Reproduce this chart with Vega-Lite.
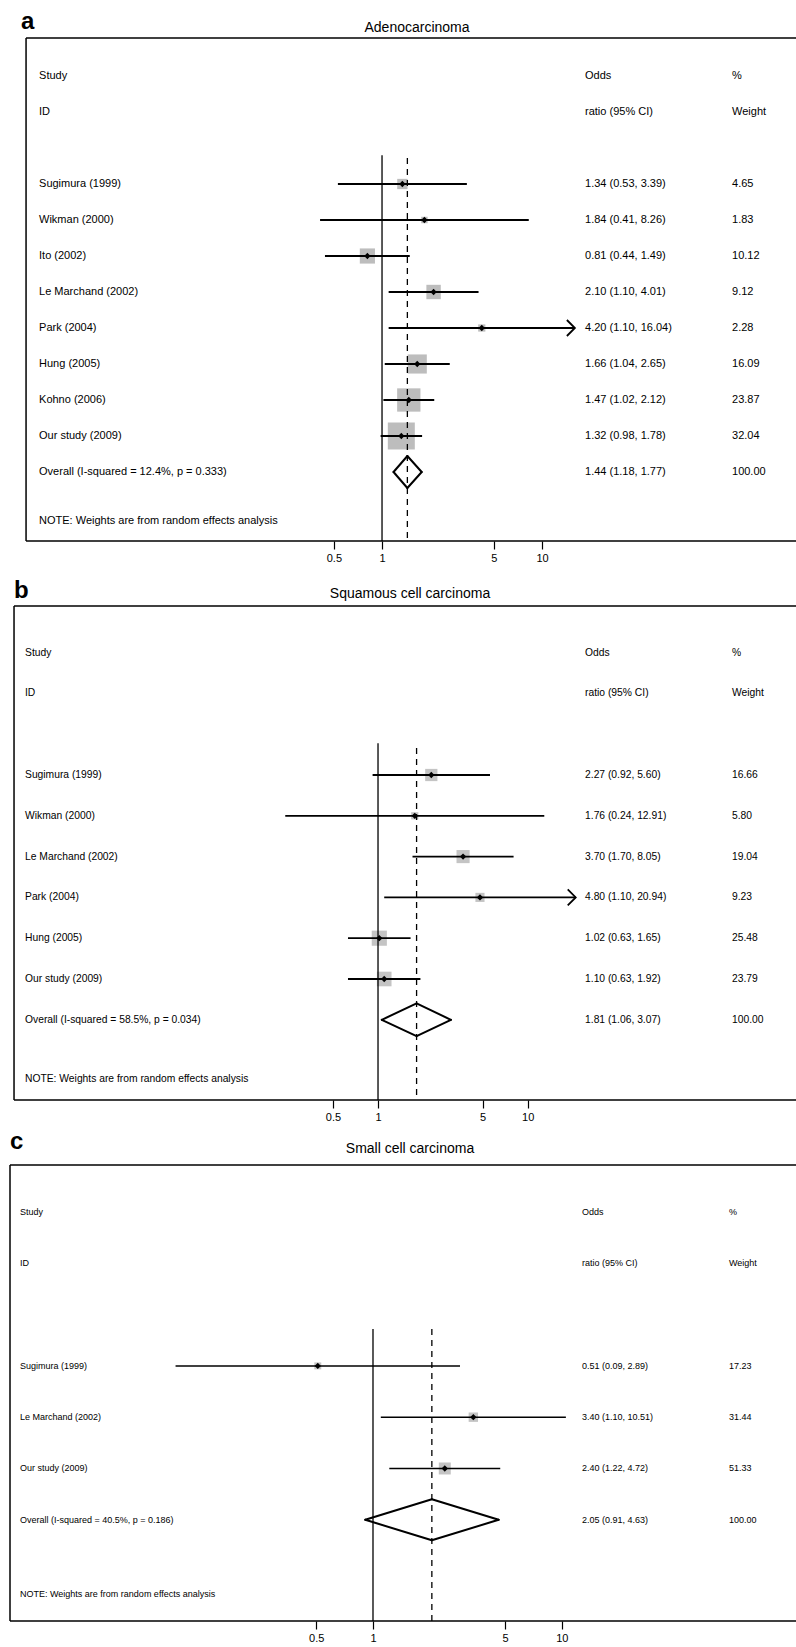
{
"$schema":"https://vega.github.io/schema/vega-lite/v6.json",
"padding":{"left":9,"top":9,"right":0,"bottom":0},
"bounds":"flush",
"spacing":65,
"resolve":{"scale":{"size":"independent"}},
"config":{
 "font":"Liberation Sans",
 "view":{"stroke":null},
 "axis":{"grid":false,"domain":false,"tickColor":"#000","labelColor":"#000","labelFont":"Liberation Sans"},
 "text":{"font":"Liberation Sans","color":"#000"}
},
"datasets":{
 "a":[
  {"row":0,"type":"head","label":"Study","ci":"Odds","wt":"%"},
  {"row":1,"type":"head","label":"ID","ci":"ratio (95% CI)","wt":"Weight"},
  {"row":3,"type":"study","label":"Sugimura (1999)","or":1.34,"lo":0.53,"hi":3.39,"w":4.65,"ci":"1.34 (0.53, 3.39)","wt":"4.65"},
  {"row":4,"type":"study","label":"Wikman (2000)","or":1.84,"lo":0.41,"hi":8.26,"w":1.83,"ci":"1.84 (0.41, 8.26)","wt":"1.83"},
  {"row":5,"type":"study","label":"Ito (2002)","or":0.81,"lo":0.44,"hi":1.49,"w":10.12,"ci":"0.81 (0.44, 1.49)","wt":"10.12"},
  {"row":6,"type":"study","label":"Le Marchand (2002)","or":2.10,"lo":1.10,"hi":4.01,"w":9.12,"ci":"2.10 (1.10, 4.01)","wt":"9.12"},
  {"row":7,"type":"study","label":"Park (2004)","or":4.20,"lo":1.10,"hi":16.04,"w":2.28,"ci":"4.20 (1.10, 16.04)","wt":"2.28"},
  {"row":8,"type":"study","label":"Hung (2005)","or":1.66,"lo":1.04,"hi":2.65,"w":16.09,"ci":"1.66 (1.04, 2.65)","wt":"16.09"},
  {"row":9,"type":"study","label":"Kohno (2006)","or":1.47,"lo":1.02,"hi":2.12,"w":23.87,"ci":"1.47 (1.02, 2.12)","wt":"23.87"},
  {"row":10,"type":"study","label":"Our study (2009)","or":1.32,"lo":0.98,"hi":1.78,"w":32.04,"ci":"1.32 (0.98, 1.78)","wt":"32.04"},
  {"row":11,"type":"overall","label":"Overall  (I-squared = 12.4%, p = 0.333)","or":1.44,"lo":1.18,"hi":1.77,"w":100,"ci":"1.44 (1.18, 1.77)","wt":"100.00"},
  {"row":12.36,"type":"note","label":"NOTE: Weights are from random effects analysis"}
 ],
 "b":[
  {"row":0,"type":"head","label":"Study","ci":"Odds","wt":"%"},
  {"row":1,"type":"head","label":"ID","ci":"ratio (95% CI)","wt":"Weight"},
  {"row":3,"type":"study","label":"Sugimura (1999)","or":2.27,"lo":0.92,"hi":5.60,"w":16.66,"ci":"2.27 (0.92, 5.60)","wt":"16.66"},
  {"row":4,"type":"study","label":"Wikman (2000)","or":1.76,"lo":0.24,"hi":12.91,"w":5.80,"ci":"1.76 (0.24, 12.91)","wt":"5.80"},
  {"row":5,"type":"study","label":"Le Marchand (2002)","or":3.70,"lo":1.70,"hi":8.05,"w":19.04,"ci":"3.70 (1.70, 8.05)","wt":"19.04"},
  {"row":6,"type":"study","label":"Park (2004)","or":4.80,"lo":1.10,"hi":20.94,"w":9.23,"ci":"4.80 (1.10, 20.94)","wt":"9.23"},
  {"row":7,"type":"study","label":"Hung (2005)","or":1.02,"lo":0.63,"hi":1.65,"w":25.48,"ci":"1.02 (0.63, 1.65)","wt":"25.48"},
  {"row":8,"type":"study","label":"Our study (2009)","or":1.10,"lo":0.63,"hi":1.92,"w":23.79,"ci":"1.10 (0.63, 1.92)","wt":"23.79"},
  {"row":9,"type":"overall","label":"Overall  (I-squared = 58.5%, p = 0.034)","or":1.81,"lo":1.06,"hi":3.07,"w":100,"ci":"1.81 (1.06, 3.07)","wt":"100.00"},
  {"row":10.45,"type":"note","label":"NOTE: Weights are from random effects analysis"}
 ],
 "c":[
  {"row":0,"type":"head","label":"Study","ci":"Odds","wt":"%"},
  {"row":1,"type":"head","label":"ID","ci":"ratio (95% CI)","wt":"Weight"},
  {"row":3,"type":"study","label":"Sugimura (1999)","or":0.51,"lo":0.09,"hi":2.89,"w":17.23,"ci":"0.51 (0.09, 2.89)","wt":"17.23"},
  {"row":4,"type":"study","label":"Le Marchand (2002)","or":3.40,"lo":1.10,"hi":10.51,"w":31.44,"ci":"3.40 (1.10, 10.51)","wt":"31.44"},
  {"row":5,"type":"study","label":"Our study (2009)","or":2.40,"lo":1.22,"hi":4.72,"w":51.33,"ci":"2.40 (1.22, 4.72)","wt":"51.33"},
  {"row":6,"type":"overall","label":"Overall  (I-squared = 40.5%, p = 0.186)","or":2.05,"lo":0.91,"hi":4.63,"w":100,"ci":"2.05 (0.91, 4.63)","wt":"100.00"},
  {"row":7.45,"type":"note","label":"NOTE: Weights are from random effects analysis"}
 ]
},
"vconcat":[
 {"width":787,"height":503,"data":{"name":"a"},
  "layer":[
   {"transform":[{"filter":"datum.type==='study'"}],"mark":{"type":"point","shape":"square","filled":true,"color":"#bdbdbd","opacity":1},
    "encoding":{"x":{"field":"or","type":"quantitative","scale":{"type":"log","domain":[0.004734,391.9],"nice":false},"axis":{"values":[0.5,1,5,10],"format":"~g","tickSize":8,"tickWidth":1.2,"labelFontSize":11,"labelPadding":3,"title":null,"grid":false,"domain":false,"labelFlush":false,"labelOverlap":false}},
     "y":{"field":"row","type":"quantitative","scale":{"domain":[-1.056,12.917],"reverse":true,"nice":false,"zero":false},"axis":null},
     "size":{"field":"w","type":"quantitative","scale":{"domain":[0,100],"range":[0,2275]},"legend":null}}},
   {"transform":[{"filter":"datum.type==='overall'"}],"mark":{"type":"rule","color":"#000","strokeWidth":1.5},
    "encoding":{"x":{"datum":0.005964,"type":"quantitative","axis":{"values":[0.5,1,5,10],"format":"~g","tickSize":8,"tickWidth":1.2,"labelFontSize":11,"labelPadding":3,"title":null,"grid":false,"domain":false,"labelFlush":false,"labelOverlap":false}},"x2":{"datum":391.9},"y":{"datum":-1.056,"type":"quantitative","axis":null}}},
   {"transform":[{"filter":"datum.type==='overall'"}],"mark":{"type":"rule","color":"#000","strokeWidth":1.5},
    "encoding":{"x":{"datum":0.005964,"type":"quantitative","axis":{"values":[0.5,1,5,10],"format":"~g","tickSize":8,"tickWidth":1.2,"labelFontSize":11,"labelPadding":3,"title":null,"grid":false,"domain":false,"labelFlush":false,"labelOverlap":false}},"x2":{"datum":391.9},"y":{"datum":12.917,"type":"quantitative","axis":null}}},
   {"transform":[{"filter":"datum.type==='overall'"}],"mark":{"type":"rule","color":"#000","strokeWidth":1.5},
    "encoding":{"x":{"datum":0.005964,"type":"quantitative","axis":{"values":[0.5,1,5,10],"format":"~g","tickSize":8,"tickWidth":1.2,"labelFontSize":11,"labelPadding":3,"title":null,"grid":false,"domain":false,"labelFlush":false,"labelOverlap":false}}}},
   {"transform":[{"filter":"datum.type==='study'"}],"mark":{"type":"rule","color":"#000","strokeWidth":1.8},
    "encoding":{"x":{"field":"lo","type":"quantitative","axis":{"values":[0.5,1,5,10],"format":"~g","tickSize":8,"tickWidth":1.2,"labelFontSize":11,"labelPadding":3,"title":null,"grid":false,"domain":false,"labelFlush":false,"labelOverlap":false}},"x2":{"field":"hi"},"y":{"field":"row","type":"quantitative","axis":null}}},
   {"transform":[{"filter":"datum.type==='study'"}],"mark":{"type":"point","shape":"diamond","filled":true,"color":"#000","size":40,"opacity":1},
    "encoding":{"x":{"field":"or","type":"quantitative","axis":{"values":[0.5,1,5,10],"format":"~g","tickSize":8,"tickWidth":1.2,"labelFontSize":11,"labelPadding":3,"title":null,"grid":false,"domain":false,"labelFlush":false,"labelOverlap":false}},"y":{"field":"row","type":"quantitative","axis":null}}},
   {"transform":[{"filter":"datum.type==='study' && datum.hi > 15"}],"mark":{"type":"point","shape":"M -1 -1 L 0 0 L -1 1","filled":false,"color":"#000","strokeWidth":1.8,"size":256,"opacity":1},
    "encoding":{"x":{"field":"hi","type":"quantitative","axis":{"values":[0.5,1,5,10],"format":"~g","tickSize":8,"tickWidth":1.2,"labelFontSize":11,"labelPadding":3,"title":null,"grid":false,"domain":false,"labelFlush":false,"labelOverlap":false}},"y":{"field":"row","type":"quantitative","axis":null}}},
   {"transform":[{"filter":"datum.type==='overall'"}],"mark":{"type":"rule","color":"#000","strokeWidth":1.3},
    "encoding":{"x":{"datum":1,"type":"quantitative","axis":{"values":[0.5,1,5,10],"format":"~g","tickSize":8,"tickWidth":1.2,"labelFontSize":11,"labelPadding":3,"title":null,"grid":false,"domain":false,"labelFlush":false,"labelOverlap":false}},"y":{"datum":2.2,"type":"quantitative","axis":null},"y2":{"datum":12.917}}},
   {"transform":[{"filter":"datum.type==='overall'"}],"mark":{"type":"rule","color":"#000","strokeWidth":1.3,"strokeDash":[6,5]},
    "encoding":{"x":{"field":"or","type":"quantitative","axis":{"values":[0.5,1,5,10],"format":"~g","tickSize":8,"tickWidth":1.2,"labelFontSize":11,"labelPadding":3,"title":null,"grid":false,"domain":false,"labelFlush":false,"labelOverlap":false}},"y":{"datum":2.28,"type":"quantitative","axis":null},"y2":{"datum":12.917}}},
   {"transform":[{"filter":"datum.type==='overall'"}],"mark":{"type":"rule","color":"#000","strokeWidth":2,"strokeCap":"round"},
    "encoding":{"x":{"field":"lo","type":"quantitative","axis":{"values":[0.5,1,5,10],"format":"~g","tickSize":8,"tickWidth":1.2,"labelFontSize":11,"labelPadding":3,"title":null,"grid":false,"domain":false,"labelFlush":false,"labelOverlap":false}},"x2":{"field":"or"},"y":{"field":"row","type":"quantitative","axis":null},"y2":{"datum":10.556}}},
   {"transform":[{"filter":"datum.type==='overall'"}],"mark":{"type":"rule","color":"#000","strokeWidth":2,"strokeCap":"round"},
    "encoding":{"x":{"field":"hi","type":"quantitative","axis":{"values":[0.5,1,5,10],"format":"~g","tickSize":8,"tickWidth":1.2,"labelFontSize":11,"labelPadding":3,"title":null,"grid":false,"domain":false,"labelFlush":false,"labelOverlap":false}},"x2":{"field":"or"},"y":{"field":"row","type":"quantitative","axis":null},"y2":{"datum":10.556}}},
   {"transform":[{"filter":"datum.type==='overall'"}],"mark":{"type":"rule","color":"#000","strokeWidth":2,"strokeCap":"round"},
    "encoding":{"x":{"field":"hi","type":"quantitative","axis":{"values":[0.5,1,5,10],"format":"~g","tickSize":8,"tickWidth":1.2,"labelFontSize":11,"labelPadding":3,"title":null,"grid":false,"domain":false,"labelFlush":false,"labelOverlap":false}},"x2":{"field":"or"},"y":{"field":"row","type":"quantitative","axis":null},"y2":{"datum":11.444}}},
   {"transform":[{"filter":"datum.type==='overall'"}],"mark":{"type":"rule","color":"#000","strokeWidth":2,"strokeCap":"round"},
    "encoding":{"x":{"field":"lo","type":"quantitative","axis":{"values":[0.5,1,5,10],"format":"~g","tickSize":8,"tickWidth":1.2,"labelFontSize":11,"labelPadding":3,"title":null,"grid":false,"domain":false,"labelFlush":false,"labelOverlap":false}},"x2":{"field":"or"},"y":{"field":"row","type":"quantitative","axis":null},"y2":{"datum":11.444}}},
   {"transform":[{"filter":"isValid(datum.label)"}],"mark":{"type":"text","align":"left","baseline":"middle","fontSize":11},
    "encoding":{"x":{"datum":0.00719,"type":"quantitative","axis":{"values":[0.5,1,5,10],"format":"~g","tickSize":8,"tickWidth":1.2,"labelFontSize":11,"labelPadding":3,"title":null,"grid":false,"domain":false,"labelFlush":false,"labelOverlap":false}},"y":{"field":"row","type":"quantitative","axis":null},"text":{"field":"label"}}},
   {"transform":[{"filter":"isValid(datum.ci)"}],"mark":{"type":"text","align":"left","baseline":"middle","fontSize":11},
    "encoding":{"x":{"datum":18.56,"type":"quantitative","axis":{"values":[0.5,1,5,10],"format":"~g","tickSize":8,"tickWidth":1.2,"labelFontSize":11,"labelPadding":3,"title":null,"grid":false,"domain":false,"labelFlush":false,"labelOverlap":false}},"y":{"field":"row","type":"quantitative","axis":null},"text":{"field":"ci"}}},
   {"transform":[{"filter":"isValid(datum.wt)"}],"mark":{"type":"text","align":"left","baseline":"middle","fontSize":11},
    "encoding":{"x":{"datum":153.86,"type":"quantitative","axis":{"values":[0.5,1,5,10],"format":"~g","tickSize":8,"tickWidth":1.2,"labelFontSize":11,"labelPadding":3,"title":null,"grid":false,"domain":false,"labelFlush":false,"labelOverlap":false}},"y":{"field":"row","type":"quantitative","axis":null},"text":{"field":"wt"}}},
   {"data":{"values":[{"t":"a"}]},"mark":{"type":"text","align":"left","baseline":"alphabetic","fontSize":24,"fontWeight":"bold"},
    "encoding":{"x":{"datum":0.00555,"type":"quantitative","axis":{"values":[0.5,1,5,10],"format":"~g","tickSize":8,"tickWidth":1.2,"labelFontSize":11,"labelPadding":3,"title":null,"grid":false,"domain":false,"labelFlush":false,"labelOverlap":false}},"y":{"datum":-1.31,"type":"quantitative","axis":null},"text":{"field":"t"}}},
   {"data":{"values":[{"t":"Adenocarcinoma"}]},"mark":{"type":"text","align":"center","baseline":"middle","fontSize":14},
    "encoding":{"x":{"datum":1.6547,"type":"quantitative","axis":{"values":[0.5,1,5,10],"format":"~g","tickSize":8,"tickWidth":1.2,"labelFontSize":11,"labelPadding":3,"title":null,"grid":false,"domain":false,"labelFlush":false,"labelOverlap":false}},"y":{"datum":-1.333,"type":"quantitative","axis":null},"text":{"field":"t"}}}
  ]},
 {"width":787,"height":494,"data":{"name":"b"},
  "layer":[
   {"transform":[{"filter":"datum.type==='study'"}],"mark":{"type":"point","shape":"square","filled":true,"color":"#c4c4c4","opacity":1},
    "encoding":{"x":{"field":"or","type":"quantitative","scale":{"type":"log","domain":[0.003476,630.2],"nice":false},"axis":{"values":[0.5,1,5,10],"format":"~g","tickSize":8,"tickWidth":1.2,"labelFontSize":11,"labelPadding":3,"title":null,"grid":false,"domain":false,"labelFlush":false,"labelOverlap":false}},
     "y":{"field":"row","type":"quantitative","scale":{"domain":[-1.142,10.966],"reverse":true,"nice":false,"zero":false},"axis":null},
     "size":{"field":"w","type":"quantitative","scale":{"domain":[0,100],"range":[0,900]},"legend":null}}},
   {"transform":[{"filter":"datum.type==='overall'"}],"mark":{"type":"rule","color":"#000","strokeWidth":1.5},
    "encoding":{"x":{"datum":0.003698,"type":"quantitative","axis":{"values":[0.5,1,5,10],"format":"~g","tickSize":8,"tickWidth":1.2,"labelFontSize":11,"labelPadding":3,"title":null,"grid":false,"domain":false,"labelFlush":false,"labelOverlap":false}},"x2":{"datum":630.2},"y":{"datum":-1.142,"type":"quantitative","axis":null}}},
   {"transform":[{"filter":"datum.type==='overall'"}],"mark":{"type":"rule","color":"#000","strokeWidth":1.5},
    "encoding":{"x":{"datum":0.003698,"type":"quantitative","axis":{"values":[0.5,1,5,10],"format":"~g","tickSize":8,"tickWidth":1.2,"labelFontSize":11,"labelPadding":3,"title":null,"grid":false,"domain":false,"labelFlush":false,"labelOverlap":false}},"x2":{"datum":630.2},"y":{"datum":10.966,"type":"quantitative","axis":null}}},
   {"transform":[{"filter":"datum.type==='overall'"}],"mark":{"type":"rule","color":"#000","strokeWidth":1.5},
    "encoding":{"x":{"datum":0.003698,"type":"quantitative","axis":{"values":[0.5,1,5,10],"format":"~g","tickSize":8,"tickWidth":1.2,"labelFontSize":11,"labelPadding":3,"title":null,"grid":false,"domain":false,"labelFlush":false,"labelOverlap":false}}}},
   {"transform":[{"filter":"datum.type==='study'"}],"mark":{"type":"rule","color":"#000","strokeWidth":1.8},
    "encoding":{"x":{"field":"lo","type":"quantitative","axis":{"values":[0.5,1,5,10],"format":"~g","tickSize":8,"tickWidth":1.2,"labelFontSize":11,"labelPadding":3,"title":null,"grid":false,"domain":false,"labelFlush":false,"labelOverlap":false}},"x2":{"field":"hi"},"y":{"field":"row","type":"quantitative","axis":null}}},
   {"transform":[{"filter":"datum.type==='study'"}],"mark":{"type":"point","shape":"diamond","filled":true,"color":"#000","size":40,"opacity":1},
    "encoding":{"x":{"field":"or","type":"quantitative","axis":{"values":[0.5,1,5,10],"format":"~g","tickSize":8,"tickWidth":1.2,"labelFontSize":11,"labelPadding":3,"title":null,"grid":false,"domain":false,"labelFlush":false,"labelOverlap":false}},"y":{"field":"row","type":"quantitative","axis":null}}},
   {"transform":[{"filter":"datum.type==='study' && datum.hi > 15"}],"mark":{"type":"point","shape":"M -1 -1 L 0 0 L -1 1","filled":false,"color":"#000","strokeWidth":1.8,"size":256,"opacity":1},
    "encoding":{"x":{"field":"hi","type":"quantitative","axis":{"values":[0.5,1,5,10],"format":"~g","tickSize":8,"tickWidth":1.2,"labelFontSize":11,"labelPadding":3,"title":null,"grid":false,"domain":false,"labelFlush":false,"labelOverlap":false}},"y":{"field":"row","type":"quantitative","axis":null}}},
   {"transform":[{"filter":"datum.type==='overall'"}],"mark":{"type":"rule","color":"#000","strokeWidth":1.3},
    "encoding":{"x":{"datum":1,"type":"quantitative","axis":{"values":[0.5,1,5,10],"format":"~g","tickSize":8,"tickWidth":1.2,"labelFontSize":11,"labelPadding":3,"title":null,"grid":false,"domain":false,"labelFlush":false,"labelOverlap":false}},"y":{"datum":2.22,"type":"quantitative","axis":null},"y2":{"datum":10.966}}},
   {"transform":[{"filter":"datum.type==='overall'"}],"mark":{"type":"rule","color":"#000","strokeWidth":1.3,"strokeDash":[6,5]},
    "encoding":{"x":{"field":"or","type":"quantitative","axis":{"values":[0.5,1,5,10],"format":"~g","tickSize":8,"tickWidth":1.2,"labelFontSize":11,"labelPadding":3,"title":null,"grid":false,"domain":false,"labelFlush":false,"labelOverlap":false}},"y":{"datum":2.34,"type":"quantitative","axis":null},"y2":{"datum":10.966}}},
   {"transform":[{"filter":"datum.type==='overall'"}],"mark":{"type":"rule","color":"#000","strokeWidth":2,"strokeCap":"round"},
    "encoding":{"x":{"field":"lo","type":"quantitative","axis":{"values":[0.5,1,5,10],"format":"~g","tickSize":8,"tickWidth":1.2,"labelFontSize":11,"labelPadding":3,"title":null,"grid":false,"domain":false,"labelFlush":false,"labelOverlap":false}},"x2":{"field":"or"},"y":{"field":"row","type":"quantitative","axis":null},"y2":{"datum":8.6}}},
   {"transform":[{"filter":"datum.type==='overall'"}],"mark":{"type":"rule","color":"#000","strokeWidth":2,"strokeCap":"round"},
    "encoding":{"x":{"field":"hi","type":"quantitative","axis":{"values":[0.5,1,5,10],"format":"~g","tickSize":8,"tickWidth":1.2,"labelFontSize":11,"labelPadding":3,"title":null,"grid":false,"domain":false,"labelFlush":false,"labelOverlap":false}},"x2":{"field":"or"},"y":{"field":"row","type":"quantitative","axis":null},"y2":{"datum":8.6}}},
   {"transform":[{"filter":"datum.type==='overall'"}],"mark":{"type":"rule","color":"#000","strokeWidth":2,"strokeCap":"round"},
    "encoding":{"x":{"field":"hi","type":"quantitative","axis":{"values":[0.5,1,5,10],"format":"~g","tickSize":8,"tickWidth":1.2,"labelFontSize":11,"labelPadding":3,"title":null,"grid":false,"domain":false,"labelFlush":false,"labelOverlap":false}},"x2":{"field":"or"},"y":{"field":"row","type":"quantitative","axis":null},"y2":{"datum":9.4}}},
   {"transform":[{"filter":"datum.type==='overall'"}],"mark":{"type":"rule","color":"#000","strokeWidth":2,"strokeCap":"round"},
    "encoding":{"x":{"field":"lo","type":"quantitative","axis":{"values":[0.5,1,5,10],"format":"~g","tickSize":8,"tickWidth":1.2,"labelFontSize":11,"labelPadding":3,"title":null,"grid":false,"domain":false,"labelFlush":false,"labelOverlap":false}},"x2":{"field":"or"},"y":{"field":"row","type":"quantitative","axis":null},"y2":{"datum":9.4}}},
   {"transform":[{"filter":"isValid(datum.label)"}],"mark":{"type":"text","align":"left","baseline":"middle","fontSize":10.3},
    "encoding":{"x":{"datum":0.004379,"type":"quantitative","axis":{"values":[0.5,1,5,10],"format":"~g","tickSize":8,"tickWidth":1.2,"labelFontSize":11,"labelPadding":3,"title":null,"grid":false,"domain":false,"labelFlush":false,"labelOverlap":false}},"y":{"field":"row","type":"quantitative","axis":null},"text":{"field":"label"}}},
   {"transform":[{"filter":"isValid(datum.ci)"}],"mark":{"type":"text","align":"left","baseline":"middle","fontSize":10.3},
    "encoding":{"x":{"datum":24.17,"type":"quantitative","axis":{"values":[0.5,1,5,10],"format":"~g","tickSize":8,"tickWidth":1.2,"labelFontSize":11,"labelPadding":3,"title":null,"grid":false,"domain":false,"labelFlush":false,"labelOverlap":false}},"y":{"field":"row","type":"quantitative","axis":null},"text":{"field":"ci"}}},
   {"transform":[{"filter":"isValid(datum.wt)"}],"mark":{"type":"text","align":"left","baseline":"middle","fontSize":10.3},
    "encoding":{"x":{"datum":231.8,"type":"quantitative","axis":{"values":[0.5,1,5,10],"format":"~g","tickSize":8,"tickWidth":1.2,"labelFontSize":11,"labelPadding":3,"title":null,"grid":false,"domain":false,"labelFlush":false,"labelOverlap":false}},"y":{"field":"row","type":"quantitative","axis":null},"text":{"field":"wt"}}},
   {"data":{"values":[{"t":"b"}]},"mark":{"type":"text","align":"left","baseline":"alphabetic","fontSize":24,"fontWeight":"bold"},
    "encoding":{"x":{"datum":0.0037,"type":"quantitative","axis":{"values":[0.5,1,5,10],"format":"~g","tickSize":8,"tickWidth":1.2,"labelFontSize":11,"labelPadding":3,"title":null,"grid":false,"domain":false,"labelFlush":false,"labelOverlap":false}},"y":{"datum":-1.338,"type":"quantitative","axis":null},"text":{"field":"t"}}},
   {"data":{"values":[{"t":"Squamous cell carcinoma"}]},"mark":{"type":"text","align":"center","baseline":"middle","fontSize":14},
    "encoding":{"x":{"datum":1.636,"type":"quantitative","axis":{"values":[0.5,1,5,10],"format":"~g","tickSize":8,"tickWidth":1.2,"labelFontSize":11,"labelPadding":3,"title":null,"grid":false,"domain":false,"labelFlush":false,"labelOverlap":false}},"y":{"datum":-1.436,"type":"quantitative","axis":null},"text":{"field":"t"}}}
  ]},
 {"width":787,"height":456,"data":{"name":"c"},
  "layer":[
   {"transform":[{"filter":"datum.type==='study'"}],"mark":{"type":"point","shape":"square","filled":true,"color":"#c4c4c4","opacity":1},
    "encoding":{"x":{"field":"or","type":"quantitative","scale":{"type":"log","domain":[0.011951,176.09],"nice":false},"axis":{"values":[0.5,1,5,10],"format":"~g","tickSize":8,"tickWidth":1.2,"labelFontSize":11,"labelPadding":3,"title":null,"grid":false,"domain":false,"labelFlush":false,"labelOverlap":false}},
     "y":{"field":"row","type":"quantitative","scale":{"domain":[-0.916,7.973],"reverse":true,"nice":false,"zero":false},"axis":null},
     "size":{"field":"w","type":"quantitative","scale":{"domain":[0,100],"range":[0,280]},"legend":null}}},
   {"transform":[{"filter":"datum.type==='overall'"}],"mark":{"type":"rule","color":"#000","strokeWidth":1.5},
    "encoding":{"x":{"datum":0.011951,"type":"quantitative","axis":{"values":[0.5,1,5,10],"format":"~g","tickSize":8,"tickWidth":1.2,"labelFontSize":11,"labelPadding":3,"title":null,"grid":false,"domain":false,"labelFlush":false,"labelOverlap":false}},"x2":{"datum":176.09},"y":{"datum":-0.916,"type":"quantitative","axis":null}}},
   {"transform":[{"filter":"datum.type==='overall'"}],"mark":{"type":"rule","color":"#000","strokeWidth":1.5},
    "encoding":{"x":{"datum":0.011951,"type":"quantitative","axis":{"values":[0.5,1,5,10],"format":"~g","tickSize":8,"tickWidth":1.2,"labelFontSize":11,"labelPadding":3,"title":null,"grid":false,"domain":false,"labelFlush":false,"labelOverlap":false}},"x2":{"datum":176.09},"y":{"datum":7.973,"type":"quantitative","axis":null}}},
   {"transform":[{"filter":"datum.type==='overall'"}],"mark":{"type":"rule","color":"#000","strokeWidth":1.5},
    "encoding":{"x":{"datum":0.011951,"type":"quantitative","axis":{"values":[0.5,1,5,10],"format":"~g","tickSize":8,"tickWidth":1.2,"labelFontSize":11,"labelPadding":3,"title":null,"grid":false,"domain":false,"labelFlush":false,"labelOverlap":false}}}},
   {"transform":[{"filter":"datum.type==='study'"}],"mark":{"type":"rule","color":"#000","strokeWidth":1.5},
    "encoding":{"x":{"field":"lo","type":"quantitative","axis":{"values":[0.5,1,5,10],"format":"~g","tickSize":8,"tickWidth":1.2,"labelFontSize":11,"labelPadding":3,"title":null,"grid":false,"domain":false,"labelFlush":false,"labelOverlap":false}},"x2":{"field":"hi"},"y":{"field":"row","type":"quantitative","axis":null}}},
   {"transform":[{"filter":"datum.type==='study'"}],"mark":{"type":"point","shape":"diamond","filled":true,"color":"#000","size":40,"opacity":1},
    "encoding":{"x":{"field":"or","type":"quantitative","axis":{"values":[0.5,1,5,10],"format":"~g","tickSize":8,"tickWidth":1.2,"labelFontSize":11,"labelPadding":3,"title":null,"grid":false,"domain":false,"labelFlush":false,"labelOverlap":false}},"y":{"field":"row","type":"quantitative","axis":null}}},
   {"transform":[{"filter":"datum.type==='overall'"}],"mark":{"type":"rule","color":"#000","strokeWidth":1.3},
    "encoding":{"x":{"datum":1,"type":"quantitative","axis":{"values":[0.5,1,5,10],"format":"~g","tickSize":8,"tickWidth":1.2,"labelFontSize":11,"labelPadding":3,"title":null,"grid":false,"domain":false,"labelFlush":false,"labelOverlap":false}},"y":{"datum":2.28,"type":"quantitative","axis":null},"y2":{"datum":7.973}}},
   {"transform":[{"filter":"datum.type==='overall'"}],"mark":{"type":"rule","color":"#000","strokeWidth":1.3,"strokeDash":[6,5]},
    "encoding":{"x":{"field":"or","type":"quantitative","axis":{"values":[0.5,1,5,10],"format":"~g","tickSize":8,"tickWidth":1.2,"labelFontSize":11,"labelPadding":3,"title":null,"grid":false,"domain":false,"labelFlush":false,"labelOverlap":false}},"y":{"datum":2.28,"type":"quantitative","axis":null},"y2":{"datum":7.973}}},
   {"transform":[{"filter":"datum.type==='overall'"}],"mark":{"type":"rule","color":"#000","strokeWidth":2,"strokeCap":"round"},
    "encoding":{"x":{"field":"lo","type":"quantitative","axis":{"values":[0.5,1,5,10],"format":"~g","tickSize":8,"tickWidth":1.2,"labelFontSize":11,"labelPadding":3,"title":null,"grid":false,"domain":false,"labelFlush":false,"labelOverlap":false}},"x2":{"field":"or"},"y":{"field":"row","type":"quantitative","axis":null},"y2":{"datum":5.6}}},
   {"transform":[{"filter":"datum.type==='overall'"}],"mark":{"type":"rule","color":"#000","strokeWidth":2,"strokeCap":"round"},
    "encoding":{"x":{"field":"hi","type":"quantitative","axis":{"values":[0.5,1,5,10],"format":"~g","tickSize":8,"tickWidth":1.2,"labelFontSize":11,"labelPadding":3,"title":null,"grid":false,"domain":false,"labelFlush":false,"labelOverlap":false}},"x2":{"field":"or"},"y":{"field":"row","type":"quantitative","axis":null},"y2":{"datum":5.6}}},
   {"transform":[{"filter":"datum.type==='overall'"}],"mark":{"type":"rule","color":"#000","strokeWidth":2,"strokeCap":"round"},
    "encoding":{"x":{"field":"hi","type":"quantitative","axis":{"values":[0.5,1,5,10],"format":"~g","tickSize":8,"tickWidth":1.2,"labelFontSize":11,"labelPadding":3,"title":null,"grid":false,"domain":false,"labelFlush":false,"labelOverlap":false}},"x2":{"field":"or"},"y":{"field":"row","type":"quantitative","axis":null},"y2":{"datum":6.4}}},
   {"transform":[{"filter":"datum.type==='overall'"}],"mark":{"type":"rule","color":"#000","strokeWidth":2,"strokeCap":"round"},
    "encoding":{"x":{"field":"lo","type":"quantitative","axis":{"values":[0.5,1,5,10],"format":"~g","tickSize":8,"tickWidth":1.2,"labelFontSize":11,"labelPadding":3,"title":null,"grid":false,"domain":false,"labelFlush":false,"labelOverlap":false}},"x2":{"field":"or"},"y":{"field":"row","type":"quantitative","axis":null},"y2":{"datum":6.4}}},
   {"transform":[{"filter":"isValid(datum.label)"}],"mark":{"type":"text","align":"left","baseline":"middle","fontSize":9},
    "encoding":{"x":{"datum":0.013501,"type":"quantitative","axis":{"values":[0.5,1,5,10],"format":"~g","tickSize":8,"tickWidth":1.2,"labelFontSize":11,"labelPadding":3,"title":null,"grid":false,"domain":false,"labelFlush":false,"labelOverlap":false}},"y":{"field":"row","type":"quantitative","axis":null},"text":{"field":"label"}}},
   {"transform":[{"filter":"isValid(datum.ci)"}],"mark":{"type":"text","align":"left","baseline":"middle","fontSize":9},
    "encoding":{"x":{"datum":12.794,"type":"quantitative","axis":{"values":[0.5,1,5,10],"format":"~g","tickSize":8,"tickWidth":1.2,"labelFontSize":11,"labelPadding":3,"title":null,"grid":false,"domain":false,"labelFlush":false,"labelOverlap":false}},"y":{"field":"row","type":"quantitative","axis":null},"text":{"field":"ci"}}},
   {"transform":[{"filter":"isValid(datum.wt)"}],"mark":{"type":"text","align":"left","baseline":"middle","fontSize":9},
    "encoding":{"x":{"datum":76.79,"type":"quantitative","axis":{"values":[0.5,1,5,10],"format":"~g","tickSize":8,"tickWidth":1.2,"labelFontSize":11,"labelPadding":3,"title":null,"grid":false,"domain":false,"labelFlush":false,"labelOverlap":false}},"y":{"field":"row","type":"quantitative","axis":null},"text":{"field":"wt"}}},
   {"data":{"values":[{"t":"c"}]},"mark":{"type":"text","align":"left","baseline":"alphabetic","fontSize":24,"fontWeight":"bold"},
    "encoding":{"x":{"datum":0.01196,"type":"quantitative","axis":{"values":[0.5,1,5,10],"format":"~g","tickSize":8,"tickWidth":1.2,"labelFontSize":11,"labelPadding":3,"title":null,"grid":false,"domain":false,"labelFlush":false,"labelOverlap":false}},"y":{"datum":-1.228,"type":"quantitative","axis":null},"text":{"field":"t"}}},
   {"data":{"values":[{"t":"Small cell carcinoma"}]},"mark":{"type":"text","align":"center","baseline":"middle","fontSize":14},
    "encoding":{"x":{"datum":1.570,"type":"quantitative","axis":{"values":[0.5,1,5,10],"format":"~g","tickSize":8,"tickWidth":1.2,"labelFontSize":11,"labelPadding":3,"title":null,"grid":false,"domain":false,"labelFlush":false,"labelOverlap":false}},"y":{"datum":-1.228,"type":"quantitative","axis":null},"text":{"field":"t"}}}
  ]}
]
}
